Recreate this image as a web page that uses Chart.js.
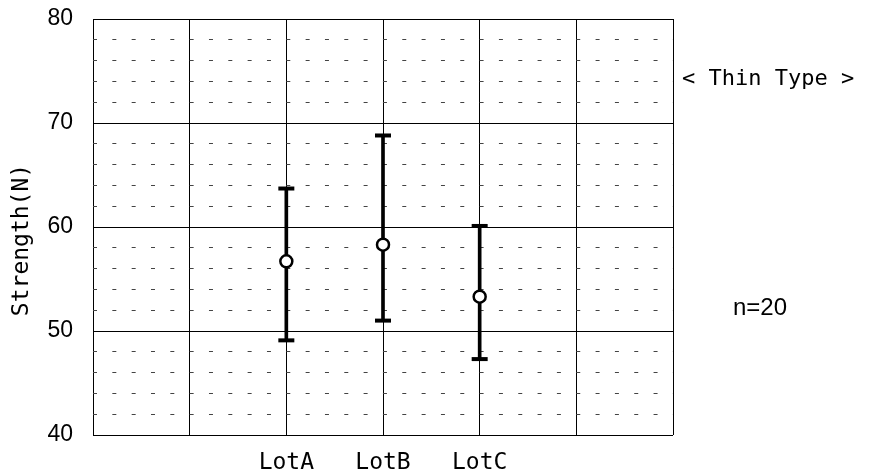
<!DOCTYPE html>
<html>
<head>
<meta charset="utf-8">
<script src="https://cdn.jsdelivr.net/npm/chart.js@4.4.1/dist/chart.umd.min.js"></script>
<style>
    html, body { margin: 0; padding: 0; background: #fff; }
    #wrap { width: 871px; height: 475px; }
</style>
</head>
<body>
<div id="wrap"><canvas id="chart" width="871" height="475"></canvas></div>
<script>
// Achsenpositionen: zwei leere Felder links und rechts, Lots in der Mitte
const categories = ['', '', 'LotA', 'LotB', 'LotC', '', ''];
const lowValues  = [null, null, 49.1, 51.0, 47.3, null, null];
const meanValues = [null, null, 56.7, 58.3, 53.3, null, null];
const highValues = [null, null, 63.7, 68.8, 60.1, null, null];
const yMajorTicks = [40, 50, 60, 70, 80];

const yTitle = 'Strength(N)';
const typeNote = '< Thin Type >';
const sampleNote = 'n=20';

const rangeData = lowValues.map((lo, i) => lo === null ? null : [lo, highValues[i]]);

const textPlugin = {
    id: 'textNotes',
    afterDraw(chart)
    {
        const ctx = chart.ctx;
        const area = chart.chartArea;
        ctx.save();
        ctx.fillStyle = '#000';
        ctx.textBaseline = 'middle';

        ctx.font = '22px "DejaVu Sans Mono"';
        ctx.textAlign = 'left';
        ctx.fillText(typeNote, area.right + 9, 79);

        ctx.font = '24px "Liberation Sans"';
        ctx.fillText(sampleNote, area.right + 60, 308);

        ctx.translate(22, 240);
        ctx.rotate(-Math.PI / 2);
        ctx.textAlign = 'center';
        ctx.font = '23px "DejaVu Sans Mono"';
        ctx.fillText(yTitle, 0, 0);
        ctx.restore();
    }
};

new Chart(document.getElementById('chart'), {
    type: 'bar',
    data: {
        labels: categories,
        datasets: [
            {
                type: 'line',
                label: 'Mittel',
                data: meanValues,
                showLine: false,
                pointStyle: 'circle',
                pointRadius: 6,
                pointBorderWidth: 2.5,
                pointBackgroundColor: '#fff',
                pointBorderColor: '#000',
                order: 0
            },
            {
                type: 'line',
                label: 'Max',
                data: highValues,
                showLine: false,
                pointStyle: 'line',
                pointRadius: 8,
                pointBorderWidth: 4,
                pointBorderColor: '#000',
                order: 1
            },
            {
                type: 'line',
                label: 'Min',
                data: lowValues,
                showLine: false,
                pointStyle: 'line',
                pointRadius: 8,
                pointBorderWidth: 4,
                pointBorderColor: '#000',
                order: 1
            },
            {
                type: 'bar',
                label: 'Bereich',
                data: rangeData,
                backgroundColor: '#000',
                barThickness: 3,
                order: 2
            }
        ]
    },
    options: {
        responsive: false,
        devicePixelRatio: 1,
        animation: false,
        layout: { padding: { left: 0, top: 19, right: 198, bottom: 0 } },
        plugins: {
            legend: { display: false },
            tooltip: { enabled: false }
        },
        scales: {
            x: {
                offset: false,
                grid: { offset: false, color: '#000', lineWidth: 1, drawTicks: false },
                border: { display: false },
                ticks: {
                    color: '#000',
                    padding: 14,
                    maxRotation: 0,
                    autoSkip: false,
                    font: { family: 'DejaVu Sans Mono', size: 23 }
                },
                afterFit: scale => { scale.height = 40; }
            },
            y: {
                min: 40,
                max: 80,
                grid: {
                    color: ctx => (ctx.tick && !yMajorTicks.includes(ctx.tick.value)) ? '#444' : '#000',
                    lineWidth: 1,
                    drawTicks: false
                },
                border: {
                    display: false,
                    dash: ctx => (ctx.tick && !yMajorTicks.includes(ctx.tick.value)) ? [4, 15.33] : []
                },
                ticks: {
                    stepSize: 2,
                    autoSkip: false,
                    color: '#000',
                    padding: 20,
                    font: { family: 'Liberation Sans', size: 23 },
                    callback: v => yMajorTicks.includes(v) ? v : ''
                },
                afterFit: scale =>
                {
                    scale.width = 93;
                    scale.paddingTop = 0;
                    scale.paddingBottom = 0;
                }
            }
        }
    },
    plugins: [textPlugin]
});
</script>
</body>
</html>
